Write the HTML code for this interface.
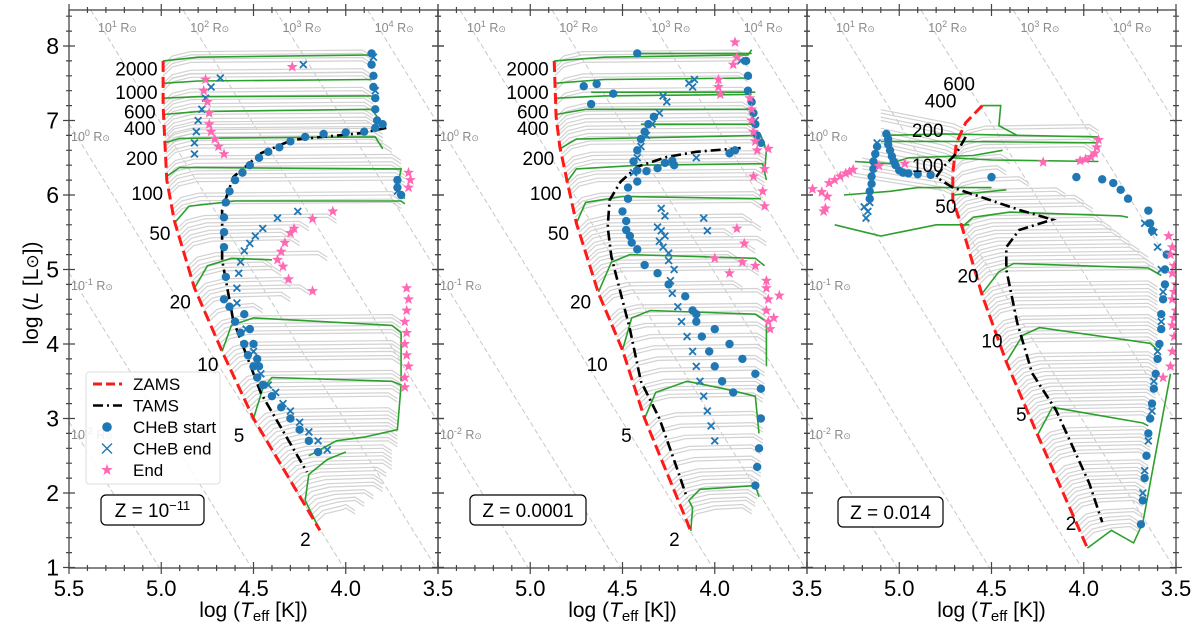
<!DOCTYPE html>
<html><head><meta charset="utf-8"><style>
html,body{margin:0;padding:0;background:#fff;width:1200px;height:630px;overflow:hidden;}
svg{display:block;font-family:"Liberation Sans","DejaVu Sans",sans-serif;overflow:hidden;}
</style></head><body>
<svg id="chart" width="1200" height="630" viewBox="0 0 1200 630" xmlns="http://www.w3.org/2000/svg">
<text x="0" y="0" transform="translate(38,293) rotate(-90)" text-anchor="middle" font-size="21">log (<tspan font-style="italic">L</tspan> [L<tspan font-size="17">⊙</tspan>])</text>
</svg>
<script>
// ---------- data (logTeff, logL) ----------
const xTicks = [5.5, 5.0, 4.5, 4.0, 3.5];
const yTicks = [1, 2, 3, 4, 5, 6, 7, 8];
const radiusExps = [-2, -1, 0, 1, 2, 3, 4];
const panelLabels = ["Z = 10", "Z = 0.0001", "Z = 0.014"];

const p1Zams = [[4.99,7.8],[4.99,7.2],[4.98,6.7],[4.97,6.2],[4.93,5.66],[4.82,4.75],[4.67,3.9],[4.50,3.0],[4.14,1.5]];
const p2Zams = [[4.87,7.8],[4.86,7.05],[4.84,6.65],[4.80,6.18],[4.75,5.62],[4.63,4.68],[4.50,3.92],[4.38,3.0],[4.13,1.49]];
const p3Zams = [[4.55,7.2],[4.64,6.97],[4.69,6.7],[4.71,6.3],[4.71,5.93],[4.66,5.57],[4.55,4.65],[4.42,3.76],[4.25,2.78],[3.98,1.26]];

const p1Tams = [[3.78,6.9],[3.92,6.83],[4.29,6.74],[4.46,6.56],[4.61,6.24],[4.67,5.8],[4.67,5.13],[4.61,4.32],[4.46,3.34],[4.21,2.28]];
const p2Tams = [[3.86,6.63],[4.10,6.58],[4.26,6.51],[4.42,6.38],[4.51,6.18],[4.57,5.93],[4.58,5.57],[4.56,5.17],[4.51,4.68],[4.46,4.2],[4.40,3.5],[4.30,3.0],[4.20,2.3],[4.15,1.93]];
const p3Tams = [[4.64,6.78],[4.69,6.56],[4.76,6.38],[4.80,6.24],[4.71,6.1],[4.47,5.9],[4.35,5.8],[4.17,5.67],[4.35,5.53],[4.42,5.3],[4.42,5.0],[4.36,4.28],[4.28,3.61],[4.15,3.11],[3.97,2.13],[3.90,1.61]];

// gray tracks: [start logL on ZAMS, end logTeff]
const p1Gray = [[1.6,3.95],[1.7,3.9],[1.8,3.85],[1.9,3.8],[2.0,3.8],[2.1,3.78],[2.2,3.75],[2.3,3.75],[2.4,3.75],[2.5,3.72],[2.6,3.72],[2.7,3.72],[2.8,3.72],[2.9,3.72],[3.1,3.72],[3.2,3.7],[3.3,3.7],[3.4,3.7],[3.6,3.7],[3.7,3.7],[3.8,3.7],[3.95,3.7],[4.05,3.7],[4.15,3.7],[4.3,4.45],[4.45,4.3],[4.55,4.2],[4.65,4.3],[4.8,4.35],[4.9,4.4],[5.0,4.1],[5.2,4.25],[5.3,4.3],[5.4,4.2],[5.5,4.05],[5.7,3.7],[5.8,3.7],[6.0,3.68],[6.1,3.68],[6.2,3.7],[6.3,3.7],[6.45,3.75],[6.55,3.8],[6.6,3.8],[6.65,3.8],[6.72,3.82],[6.8,3.84],[6.9,3.85],[7.0,3.85],[7.1,3.85],[7.2,3.86],[7.4,3.86],[7.45,3.86],[7.6,3.86],[7.7,3.86]];
const p2Gray = [[1.6,3.8],[1.7,3.78],[1.8,3.77],[1.9,3.76],[2.0,3.76],[2.1,3.75],[2.25,3.75],[2.4,3.75],[2.55,3.74],[2.7,3.74],[2.85,3.74],[3.1,3.74],[3.2,3.73],[3.3,3.73],[3.45,3.73],[3.6,3.73],[3.75,3.72],[3.9,3.72],[4.05,3.72],[4.2,3.72],[4.3,3.72],[4.5,3.72],[4.6,3.85],[4.8,3.76],[4.9,3.82],[5.0,3.88],[5.1,3.78],[5.2,3.72],[5.3,3.9],[5.4,3.75],[5.5,3.8],[5.7,3.75],[5.8,3.74],[6.0,3.73],[6.1,3.73],[6.25,3.72],[6.35,3.72],[6.5,3.72],[6.6,3.76],[6.7,3.78],[6.8,3.78],[6.9,3.78],[7.0,3.8],[7.2,3.8],[7.4,3.82],[7.6,3.82],[7.7,3.83]];
const p3Gray = [[1.35,3.7],[1.45,3.7],[1.55,3.68],[1.7,3.68],[1.8,3.67],[1.9,3.67],[2.0,3.66],[2.1,3.66],[2.2,3.65],[2.35,3.65],[2.45,3.64],[2.55,3.64],[2.65,3.63],[2.85,3.63],[2.95,3.62],[3.05,3.62],[3.15,3.61],[3.25,3.61],[3.35,3.6],[3.45,3.6],[3.55,3.6],[3.65,3.6],[3.85,3.6],[3.95,3.6],[4.05,3.6],[4.15,3.6],[4.3,3.6],[4.4,3.6],[4.5,3.6],[4.6,3.6],[4.8,3.58],[4.9,3.62],[5.0,3.65],[5.1,3.7],[5.2,3.75],[5.3,3.8],[5.4,3.85],[5.5,3.9],[5.65,3.95],[5.75,4.0],[5.85,4.1],[6.0,5.25],[6.1,5.2],[6.2,5.2],[6.3,5.15],[6.4,5.1],[6.5,5.1],[6.6,5.1],[6.75,5.1],[6.85,5.1],[6.3,4.4],[6.45,3.95],[6.55,3.92],[6.7,3.92],[6.0,4.3],[6.15,4.42]];

// highlighted (green) tracks
const p1Green = [
 [[4.99,7.8],[4.8,7.85],[3.86,7.88]],
 [[4.99,7.5],[4.8,7.53],[3.86,7.55]],
 [[4.99,7.3],[4.8,7.32],[3.86,7.33]],
 [[4.99,7.08],[4.8,7.12],[3.86,7.15],[3.8,6.95]],
 [[4.98,6.7],[4.9,6.76],[3.84,6.78],[3.80,6.62]],
 [[4.97,6.25],[4.9,6.37],[3.7,6.35],[3.72,6.1],[3.68,5.95]],
 [[4.93,5.62],[4.85,5.85],[4.6,5.92],[3.70,5.92],[3.68,5.88]],
 [[4.82,4.75],[4.75,5.05],[4.62,5.15],[4.40,5.13]],
 [[4.67,3.9],[4.62,4.25],[4.5,4.35],[3.75,4.25],[3.70,4.15],[3.70,3.5]],
 [[4.50,3.0],[4.45,3.4],[4.40,3.55],[3.75,3.5],[3.70,3.45],[3.72,2.85],[3.9,2.75],[4.05,2.7],[4.20,2.5]],
 [[4.14,1.5],[4.22,1.9],[4.2,2.25],[4.1,2.45],[4.0,2.55]]
];
const p2Green = [
 [[4.87,7.8],[4.6,7.85],[3.82,7.88],[3.80,7.95]],
 [[4.42,7.9],[3.8,7.9]],
 [[4.87,7.5],[4.6,7.55],[3.8,7.57]],
 [[4.86,7.3],[4.6,7.33],[3.8,7.35]],
 [[4.67,7.38],[3.78,7.38]],
 [[4.86,7.08],[4.7,7.15],[3.78,7.15]],
 [[4.4,6.95],[3.78,6.95]],
 [[4.84,6.62],[4.75,6.75],[3.75,6.8],[3.72,6.6],[3.73,6.3]],
 [[4.80,6.18],[4.75,6.35],[4.4,6.4],[3.74,6.42],[3.72,6.2]],
 [[4.75,5.62],[4.7,5.9],[4.5,5.98],[3.75,5.95]],
 [[4.63,4.7],[4.56,5.1],[4.46,5.2],[3.78,5.15],[3.73,5.05]],
 [[4.50,3.92],[4.45,4.35],[4.35,4.45],[3.78,4.4],[3.72,4.3],[3.72,3.7]],
 [[4.38,3.0],[4.32,3.35],[4.15,3.5],[3.95,3.4],[3.78,3.3],[3.76,2.8]],
 [[4.13,1.49],[4.12,1.8],[4.14,1.9],[4.08,2.05],[3.78,2.1],[3.76,1.95]]
];
const p3Green = [
 [[4.55,7.2],[4.45,7.2],[4.46,6.93],[4.36,6.8]],
 [[5.07,6.8],[4.75,6.82],[3.92,6.78]],
 [[5.1,6.72],[4.7,6.72],[3.92,6.7]],
 [[5.24,6.45],[5.05,6.42],[4.95,6.5],[4.6,6.53],[4.44,6.6]],
 [[4.71,6.5],[4.5,6.47],[3.92,6.45]],
 [[5.3,6.0],[5.05,6.05],[4.9,6.1],[4.5,6.1]],
 [[4.71,6.0],[4.5,6.05],[4.42,6.07]],
 [[5.35,5.6],[5.1,5.45],[5.0,5.5],[4.8,5.6],[4.62,5.6]],
 [[4.66,5.57],[4.6,5.7],[4.4,5.77],[3.8,5.72],[3.76,5.7]],
 [[4.55,4.68],[4.46,4.97],[4.38,5.08],[3.65,5.02],[3.58,4.92]],
 [[4.42,3.76],[4.33,4.12],[4.24,4.22],[3.64,4.01],[3.6,3.92]],
 [[4.25,2.78],[4.17,3.15],[3.68,2.94],[3.65,2.9]],
 [[3.98,1.26],[3.85,1.5],[3.73,1.33],[3.68,1.6],[3.53,3.6]]
];

// CHeB start (dots)
const p1ChebStart = [[4.66,5.3],[4.66,5.5],[4.66,5.7],[4.65,5.9],[4.63,6.05],[4.60,6.2],[4.56,6.3],[4.52,6.4],[4.47,6.5],[4.42,6.58],[4.36,6.64],[4.30,6.72],[4.22,6.78],[4.12,6.82],[4.00,6.84],[3.90,6.85],[3.84,6.9],[3.80,6.95],[4.66,4.6],[4.65,4.9],[4.63,4.5],[4.60,4.3],[4.57,4.15],[4.55,4.0],[4.53,3.85],[4.5,3.7],[4.48,3.55],[4.45,3.45],[4.4,3.3],[4.35,3.15],[4.3,3.0],[4.25,2.85],[4.2,2.7],[4.15,2.55],[4.55,4.4],[4.52,4.2],[4.5,4.0],[4.48,3.8],[4.47,3.7],[3.86,7.9],[3.86,7.75],[3.85,7.6],[3.85,7.45],[3.84,7.3],[3.84,7.15],[3.83,7.0],[3.72,6.2],[3.72,6.1],[3.70,6.0]];
const p2ChebStart = [[4.42,6.18],[4.47,6.1],[4.47,5.95],[4.50,5.78],[4.48,5.65],[4.48,5.53],[4.46,5.45],[4.45,5.36],[4.42,5.27],[4.38,5.06],[4.31,4.95],[4.25,4.8],[4.16,4.64],[4.12,4.45],[4.10,4.3],[4.07,4.1],[4.03,3.9],[4.0,3.7],[3.96,3.5],[3.9,3.35],[4.10,4.4],[4.0,4.2],[3.92,4.0],[3.85,3.8],[3.78,3.6],[3.75,3.4],[3.75,3.0],[3.76,2.6],[3.77,2.35],[3.78,2.1],[4.42,6.33],[4.37,6.32],[4.31,6.36],[4.27,6.43],[4.23,6.46],[4.22,6.4],[3.92,6.56],[3.89,6.6],[4.42,7.9],[4.71,7.46],[4.64,7.49],[4.55,7.36],[4.67,7.22],[3.83,7.8],[3.82,7.6],[3.82,7.4],[3.80,7.25],[3.79,7.1],[3.78,6.95],[3.77,6.8],[3.75,6.7],[4.44,6.45],[4.42,6.6],[4.40,6.75],[4.38,6.85],[4.36,6.95],[4.33,7.05]];
const p3ChebStart = [[5.07,6.82],[5.06,6.75],[5.06,6.68],[5.05,6.6],[5.04,6.52],[5.03,6.45],[5.02,6.4],[5.0,6.33],[4.98,6.3],[4.95,6.29],[4.9,6.28],[4.83,6.27],[5.12,6.65],[5.13,6.55],[5.14,6.45],[5.14,6.35],[5.15,6.25],[5.15,6.15],[5.16,6.05],[5.16,5.95],[4.50,6.24],[4.04,6.24],[3.90,6.21],[3.84,6.16],[3.80,6.07],[3.76,5.95],[3.65,5.79],[3.64,5.62],[3.63,5.52],[3.55,5.2],[3.56,5.0],[3.56,4.8],[3.57,4.6],[3.58,4.4],[3.58,4.2],[3.59,4.0],[3.60,3.8],[3.61,3.6],[3.62,3.4],[3.63,3.2],[3.64,3.0],[3.65,2.8],[3.66,2.5],[3.67,2.2],[3.68,1.9],[3.69,1.58]];

// CHeB end (crosses)
const p1ChebEnd = [[4.82,6.55],[4.82,6.7],[4.81,6.85],[4.80,7.0],[4.78,7.15],[4.76,7.3],[4.73,7.45],[4.68,7.57],[4.59,4.55],[4.59,4.75],[4.58,4.95],[4.57,5.1],[4.55,5.25],[4.52,5.35],[4.49,5.45],[4.45,5.55],[4.37,5.69],[4.26,5.78],[4.54,4.2],[4.5,3.9],[4.46,3.6],[4.42,3.45],[4.38,3.35],[4.34,3.2],[4.3,3.1],[4.25,2.95],[4.2,2.82],[4.15,2.7],[4.1,2.58],[4.23,7.75],[3.85,7.85],[3.84,7.4],[3.72,6.05]];
const p2ChebEnd = [[4.44,6.3],[4.42,6.5],[4.40,6.65],[4.37,6.8],[4.34,6.95],[4.3,7.1],[4.26,7.25],[4.28,7.33],[4.14,7.5],[4.12,7.45],[4.11,7.55],[4.1,6.5],[4.06,5.69],[4.04,5.52],[4.29,5.82],[4.27,5.72],[4.31,5.57],[4.29,5.52],[4.27,5.45],[4.3,5.38],[4.28,5.3],[4.25,5.22],[4.25,5.12],[4.22,5.0],[4.24,4.85],[4.23,4.68],[4.20,4.5],[4.18,4.3],[4.15,4.1],[4.12,3.9],[4.10,3.7],[4.08,3.5],[4.06,3.3],[4.04,3.1],[4.02,2.9],[4.0,2.7],[3.86,7.8],[3.78,7.0]];
const p3ChebEnd = [[5.19,5.84],[5.18,5.69],[5.12,6.7],[5.16,5.9],[5.17,5.78],[3.67,5.62],[3.62,5.5],[3.6,5.3],[3.58,5.0],[3.57,4.7],[3.58,4.3],[3.60,3.9],[3.62,3.5],[3.63,3.1],[3.65,2.7],[3.67,2.3],[3.68,2.0]];

// End of evolution (stars)
const p1End = [[4.76,7.55],[4.77,7.4],[4.75,7.25],[4.74,7.1],[4.74,6.95],[4.73,6.85],[4.71,6.75],[4.69,6.65],[4.66,6.55],[4.07,5.78],[4.18,5.68],[4.28,5.55],[4.30,5.49],[4.33,5.36],[4.35,5.24],[4.37,5.13],[4.34,5.04],[4.31,4.87],[4.18,4.71],[3.67,4.75],[3.66,4.6],[3.67,4.45],[3.68,4.3],[3.67,4.15],[3.68,4.0],[3.67,3.85],[3.66,3.7],[3.68,3.55],[3.68,3.42],[3.66,6.3],[3.65,6.2],[3.66,6.1],[4.29,7.72]];
const p2End = [[3.89,8.05],[3.88,7.85],[3.90,7.75],[3.98,7.55],[3.98,7.45],[3.97,7.35],[3.81,7.3],[3.80,7.15],[3.80,7.0],[3.79,6.85],[3.78,6.72],[3.77,6.6],[3.71,6.62],[3.73,6.35],[3.79,6.25],[3.74,6.05],[3.73,5.85],[3.88,5.55],[3.84,5.35],[4.0,5.15],[3.85,5.1],[3.78,5.05],[3.92,4.95],[3.72,4.85],[3.72,4.75],[3.71,4.6],[3.72,4.45],[3.71,4.3],[3.70,4.2],[3.65,4.65],[3.68,4.35]];
const p3End = [[5.47,6.08],[5.42,6.04],[5.39,5.98],[5.40,5.82],[5.41,5.78],[5.38,6.16],[5.35,6.2],[5.32,6.25],[5.29,6.29],[5.27,6.31],[5.25,6.34],[5.11,6.39],[4.97,6.42],[4.22,6.44],[4.02,6.46],[3.99,6.48],[3.96,6.51],[3.94,6.56],[3.93,6.64],[3.92,6.74],[3.54,5.45],[3.52,5.3],[3.53,5.2],[3.51,5.05],[3.52,4.95],[3.50,4.8],[3.51,4.7],[3.52,4.6],[3.50,4.45],[3.51,4.35],[3.52,4.25],[3.51,4.1],[3.52,3.9],[3.53,3.7],[3.57,3.55]];

// mass labels: [text, x-anchor logT, logL]
const p1Mass = [["2000",5.02,7.7],["1000",5.02,7.38],["600",5.03,7.12],["400",5.03,6.9],["200",5.02,6.5],["100",4.99,6.03],["50",4.95,5.49],["20",4.84,4.57],["10",4.69,3.73],["5",4.55,2.78],["2",4.19,1.38]];
const p2Mass = [["2000",4.90,7.7],["1000",4.90,7.38],["600",4.90,7.12],["400",4.90,6.9],["200",4.87,6.5],["100",4.83,6.03],["50",4.79,5.49],["20",4.67,4.57],["10",4.58,3.73],["5",4.45,2.78],["2",4.19,1.38]];
const p3Mass = [["600",4.59,7.5],["400",4.69,7.27],["200",4.76,6.87],["100",4.76,6.4],["50",4.69,5.85],["20",4.57,4.92],["10",4.44,4.05],["5",4.31,3.06],["2",4.04,1.6]];

// ---------- drawing ----------
const NS = "http://www.w3.org/2000/svg";
const svg = document.getElementById("chart");
const LEFT = [69, 438, 807];
const PW = 369, TOPY = 10, BOTY = 568;
function X(p, T) { return LEFT[p] + (5.5 - T) * (PW / 2); }
function Y(L) { return 46 + (8 - L) * 74.5; }
function mk(tag, attrs, parent) {
  const e = document.createElementNS(NS, tag);
  for (const k in attrs) e.setAttribute(k, attrs[k]);
  (parent || svg).appendChild(e);
  return e;
}
function zamsT(zams, L) {
  for (let i = 0; i < zams.length - 1; i++) {
    const a = zams[i], b = zams[i + 1];
    if ((L <= a[1] && L >= b[1])) { const f = (L - b[1]) / (a[1] - b[1]); return b[0] + f * (a[0] - b[0]); }
  }
  return L > zams[0][1] ? zams[0][0] : zams[zams.length - 1][0];
}
function pathD(p, pts) { return pts.map((q, i) => (i ? "L" : "M") + X(p, q[0]).toFixed(1) + "," + Y(q[1]).toFixed(1)).join(" "); }

const panels = [
  {zams: p1Zams, tams: p1Tams, gray: p1Gray, green: p1Green, cs: p1ChebStart, ce: p1ChebEnd, en: p1End, mass: p1Mass},
  {zams: p2Zams, tams: p2Tams, gray: p2Gray, green: p2Green, cs: p2ChebStart, ce: p2ChebEnd, en: p2End, mass: p2Mass},
  {zams: p3Zams, tams: p3Tams, gray: p3Gray, green: p3Green, cs: p3ChebStart, ce: p3ChebEnd, en: p3End, mass: p3Mass}
];
const defs = mk("defs", {});
function starPts(cx, cy, r) {
  let s = [];
  for (let i = 0; i < 10; i++) { const a = -Math.PI / 2 + i * Math.PI / 5; const rr = i % 2 ? r * 0.42 : r; s.push((cx + rr * Math.cos(a)).toFixed(1) + "," + (cy + rr * Math.sin(a)).toFixed(1)); }
  return s.join(" ");
}
function grayPts(P, L0, Te) {
  const T0 = zamsT(P.zams, L0);
  if (Te > T0) return [[T0, L0], [T0 + 0.05, L0 + 0.06], [Te, L0 + 0.25]];
  return [[T0, L0], [T0 - 0.05, L0 + 0.12], [T0 - 0.15, L0 + 0.18], [Te + 0.05, L0 + 0.2], [Te, L0 + 0.12]];
}
const LMIN = 1.0, LMAX = 8.48;

panels.forEach((P, p) => {
  const cp = mk("clipPath", {id: "clip" + p}, defs);
  mk("rect", {x: LEFT[p], y: TOPY, width: PW, height: BOTY - TOPY}, cp);
  const g = mk("g", {"clip-path": "url(#clip" + p + ")"});
  
  

  radiusExps.forEach(r => {
    // L = 2r + 4(T - 3.7613); clip to the visible box
    let Ta = 3.7613 + (LMAX - 2 * r) / 4, Tb = 3.7613 + (LMIN - 2 * r) / 4;
    Ta = Math.min(5.5, Math.max(3.5, Ta)); Tb = Math.min(5.5, Math.max(3.5, Tb));
    if (Ta - Tb < 0.001) return;
    const La = 2 * r + 4 * (Ta - 3.7613), Lb = 2 * r + 4 * (Tb - 3.7613);
    const ln = mk("line", {x1: X(p, Ta), y1: Y(La), x2: X(p, Tb), y2: Y(Lb), stroke: "#c8c8c8", "stroke-width": 1, "stroke-dasharray": "5,3"}, g);
    
    
  });
  P.gray.forEach(t => {
    [0, 0.045].forEach(off => {
      const e = mk("path", {d: pathD(p, grayPts(P, t[0] + off, t[1])), fill: "none", stroke: "#d2d2d2", "stroke-width": 1.2}, g);
      
      
    });
  });
  P.green.forEach(t => {
    const e = mk("path", {d: pathD(p, t), fill: "none", stroke: "#2ca02c", "stroke-width": 1.6}, g);
    
    
  });
  const z = mk("path", {d: pathD(p, P.zams), fill: "none", stroke: "#ff1a1a", "stroke-width": 3, "stroke-dasharray": "11,5"}, g);
  
  
  const tm = mk("path", {d: pathD(p, P.tams), fill: "none", stroke: "#000", "stroke-width": 2.6, "stroke-dasharray": "10,4,2,4"}, g);
  
  
  P.ce.forEach(q => {
    const cx = X(p, q[0]), cy = Y(q[1]), s = 3.4;
    const e = mk("path", {d: `M${cx-s},${cy-s}L${cx+s},${cy+s}M${cx-s},${cy+s}L${cx+s},${cy-s}`, stroke: "#1f77b4", "stroke-width": 1.8}, g);
    
    
  });
  P.cs.forEach(q => {
    const e = mk("circle", {cx: X(p, q[0]), cy: Y(q[1]), r: 4.2, fill: "#1f77b4"}, g);
    
    
  });
  P.en.forEach(q => {
    const e = mk("polygon", {points: starPts(X(p, q[0]), Y(q[1]), 5.8), fill: "#ff69b4"}, g);
    
    
  });
  P.mass.forEach(m => {
    const e = mk("text", {x: X(p, m[1]), y: Y(m[2]) + 7, "text-anchor": "end", "font-size": 19}, g);
    e.textContent = m[0];
    
    
  });
  radiusExps.forEach(r => {
    const Ltop = 8.24;
    const Tl = 3.7613 + (Ltop - 2 * r) / 4;
    let tx, ty;
    if (Tl <= 5.5 && Tl >= 3.55) { tx = X(p, Tl) - 4; ty = Y(Ltop) + 4; }
    else { const Ll = 2 * r + 4 * (5.5 - 3.7613); if (Ll < 1.2 || Ll > 8.4) return; tx = LEFT[p] + 2; ty = Y(Ll) + 17; }
    const e = mk("text", {x: tx, y: ty, "font-size": 12.5, fill: "#8a8a8a"}, g);
    e.innerHTML = '10<tspan dy="-5" font-size="9">' + r + '</tspan><tspan dy="5"> R</tspan><tspan font-size="9">⊙</tspan>';
    
    
  });

  const fr = mk("rect", {x: LEFT[p], y: TOPY, width: PW, height: BOTY - TOPY, fill: "none", stroke: "#444", "stroke-width": 1.3});
  
  
  let d = "";
  for (let i = 0; i <= 20; i++) {
    const T = 5.5 - i * 0.1, x = X(p, T), len = (i % 5 === 0) ? 6 : 3;
    d += `M${x},${BOTY-len}L${x},${BOTY+len}M${x},${TOPY-len}L${x},${TOPY+len}`;
  }
  for (let i = 0; i <= 37; i++) {
    const L = 1 + i * 0.2; if (L > 8.45) break;
    const y = Y(L), len = (Math.abs(L - Math.round(L)) < 1e-6) ? 6 : 3;
    d += `M${LEFT[p]-len},${y}L${LEFT[p]+len},${y}M${LEFT[p]+PW-len},${y}L${LEFT[p]+PW+len},${y}`;
  }
  const tk = mk("path", {d: d, stroke: "#444", "stroke-width": 1.2});
  
  
  xTicks.forEach((v, i) => {
    if (p > 0 && i === 0) return;
    const e = mk("text", {x: X(p, v), y: 596, "text-anchor": "middle", "font-size": 22});
    e.textContent = v.toFixed(1);
    
    
  });
  const xt = mk("text", {x: LEFT[p] + PW / 2, y: 617, "text-anchor": "middle", "font-size": 21});
  xt.innerHTML = 'log (<tspan font-style="italic">T</tspan><tspan font-size="15" dy="4">eff</tspan><tspan dy="-4"> [K])</tspan>';
  
  
  const zb = [[101, 495, 103], [470, 495, 116], [838, 497, 105]][p];
  const bx = mk("rect", {x: zb[0], y: zb[1], width: zb[2], height: 30, rx: 5, fill: "#fff", stroke: "#000", "stroke-width": 1.2});
  
  
  const zt = mk("text", {x: zb[0] + zb[2] / 2, y: zb[1] + 22, "text-anchor": "middle", "font-size": 19});
  zt.innerHTML = p === 0 ? 'Z = 10<tspan dy="-7" font-size="13">−11</tspan>' : panelLabels[p];
  
  
});

yTicks.forEach(v => {
  const e = mk("text", {x: 59, y: Y(v) + 8, "text-anchor": "end", "font-size": 23});
  e.textContent = v;
  
  
});

const lg = mk("g", {});


mk("rect", {x: 86, y: 372, width: 134, height: 112, rx: 3, fill: "#fff", "fill-opacity": 0.85, stroke: "#ddd"}, lg);
const legendNames = ["ZAMS", "TAMS", "CHeB start", "CHeB end", "End"];
legendNames.forEach((n, i) => {
  const y = 384 + i * 21.5;
  const it = mk("g", {}, lg);
  
  
  if (i === 0) mk("line", {x1: 93, y1: y, x2: 122, y2: y, stroke: "#ff1a1a", "stroke-width": 3, "stroke-dasharray": "9,4"}, it);
  if (i === 1) mk("line", {x1: 93, y1: y, x2: 122, y2: y, stroke: "#000", "stroke-width": 2.6, "stroke-dasharray": "10,4,2,4"}, it);
  if (i === 2) mk("circle", {cx: 107, cy: y, r: 4.8, fill: "#1f77b4"}, it);
  if (i === 3) mk("path", {d: `M102,${y-5}L112,${y+5}M102,${y+5}L112,${y-5}`, stroke: "#1f77b4", "stroke-width": 1.4}, it);
  if (i === 4) mk("polygon", {points: starPts(107, y, 6), fill: "#ff69b4"}, it);
  const t = mk("text", {x: 133, y: y + 6, "font-size": 17}, it);
  t.textContent = n;
});
</script>
</body></html>
